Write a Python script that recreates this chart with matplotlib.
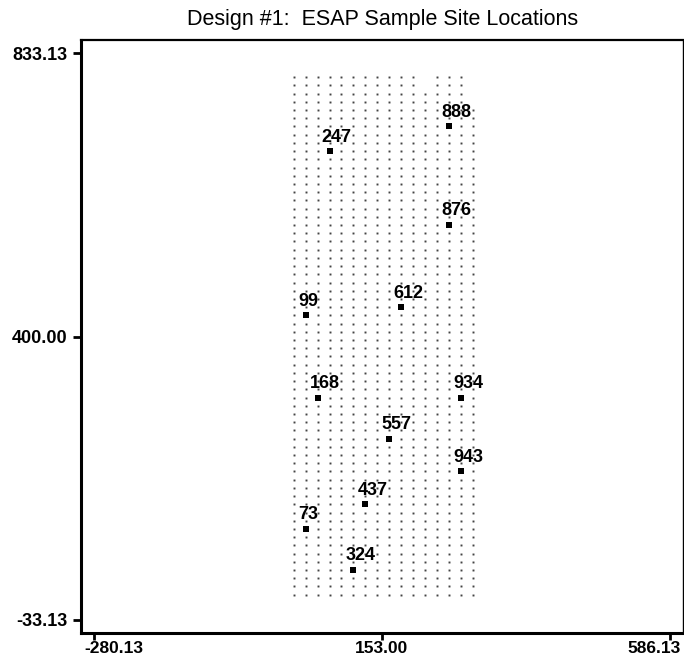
import matplotlib
matplotlib.use("Agg")
import matplotlib.pyplot as plt
import matplotlib.transforms as mtransforms
import numpy as np

# candidate sampling grid (field survey lattice)
grid_x0, grid_dx, grid_nx = 20.0, 18.0, 16
grid_y0, grid_dy, grid_ny = 5.5, 12.55, 64

# selected sample sites
site_ids = ['888', '247', '876', '99', '612', '168', '934', '557', '943', '437', '73', '324']
site_x = [254, 74, 254, 38, 182, 56, 272, 164, 272, 128, 38, 110]
site_y = [720.9, 683.2, 570.3, 432.2, 444.8, 306.7, 306.7, 244.0, 193.8, 143.6, 105.9, 43.2]

x_ticks = [-280.13, 153.00, 586.13]
y_ticks = [-33.13, 400.00, 833.13]

plt.rcParams['font.family'] = ['Liberation Sans', 'DejaVu Sans']

fig = plt.figure(figsize=(6.84, 6.6), dpi=100)
ax = fig.add_axes([81 / 684, 1 - 633 / 660, 602 / 684, 593 / 660])

# lattice points; the top-right corner of the field is not covered
gx = grid_x0 + grid_dx * np.arange(grid_nx)
gy = grid_y0 + grid_dy * np.arange(grid_ny)
px, py = [], []
for r, yv in enumerate(gy[::-1]):
    for c, xv in enumerate(gx):
        if r < 2 and c in (11, 15):
            continue
        if r < 4 and c == 15:
            continue
        px.append(xv)
        py.append(yv)
ax.plot(px, py, 's', ms=1.4, color='#444444', mew=0, zorder=2)

# sites
ax.plot(site_x, site_y, 's', ms=4.8, color='black', mew=0, zorder=3)
for sid, xv, yv in zip(site_ids, site_x, site_y):
    ax.annotate(sid, (xv, yv), xytext=(-5.5, 4.0), textcoords='offset points',
                ha='left', va='bottom', fontsize=13, fontweight='bold', zorder=4)

ax.set_xlim(-300, 606)
ax.set_ylim(-53, 853)
ax.set_xticks(x_ticks)
ax.set_xticklabels([f'{v:.2f}' for v in x_ticks])
ax.set_yticks(y_ticks)
ax.set_yticklabels([f'{v:.2f}' for v in y_ticks])
ax.tick_params(direction='out', length=6, width=2, labelsize=13, pad=3.5)
ax.tick_params(axis='x', length=5, labelsize=12.5, pad=1)
for lab in ax.get_xticklabels() + ax.get_yticklabels():
    lab.set_fontweight('bold')

# end labels on the x axis are kept inside the figure
xl = ax.get_xticklabels()
xl[0].set_horizontalalignment('left')
xl[0].set_transform(xl[0].get_transform() +
                    mtransforms.ScaledTranslation(-10 / 100, 0, fig.dpi_scale_trans))
xl[-1].set_horizontalalignment('right')
xl[-1].set_transform(xl[-1].get_transform() +
                     mtransforms.ScaledTranslation(11 / 100, 0, fig.dpi_scale_trans))

ax.spines['left'].set_linewidth(2.2)
ax.spines['bottom'].set_linewidth(2.2)
ax.spines['top'].set_linewidth(1.6)
ax.spines['right'].set_linewidth(1.0)

fig.text(383 / 684, 1 - 20 / 660, 'Design #1:  ESAP Sample Site Locations',
         ha='center', va='center', fontsize=15.5)

fig.savefig('out.png', dpi=100)
